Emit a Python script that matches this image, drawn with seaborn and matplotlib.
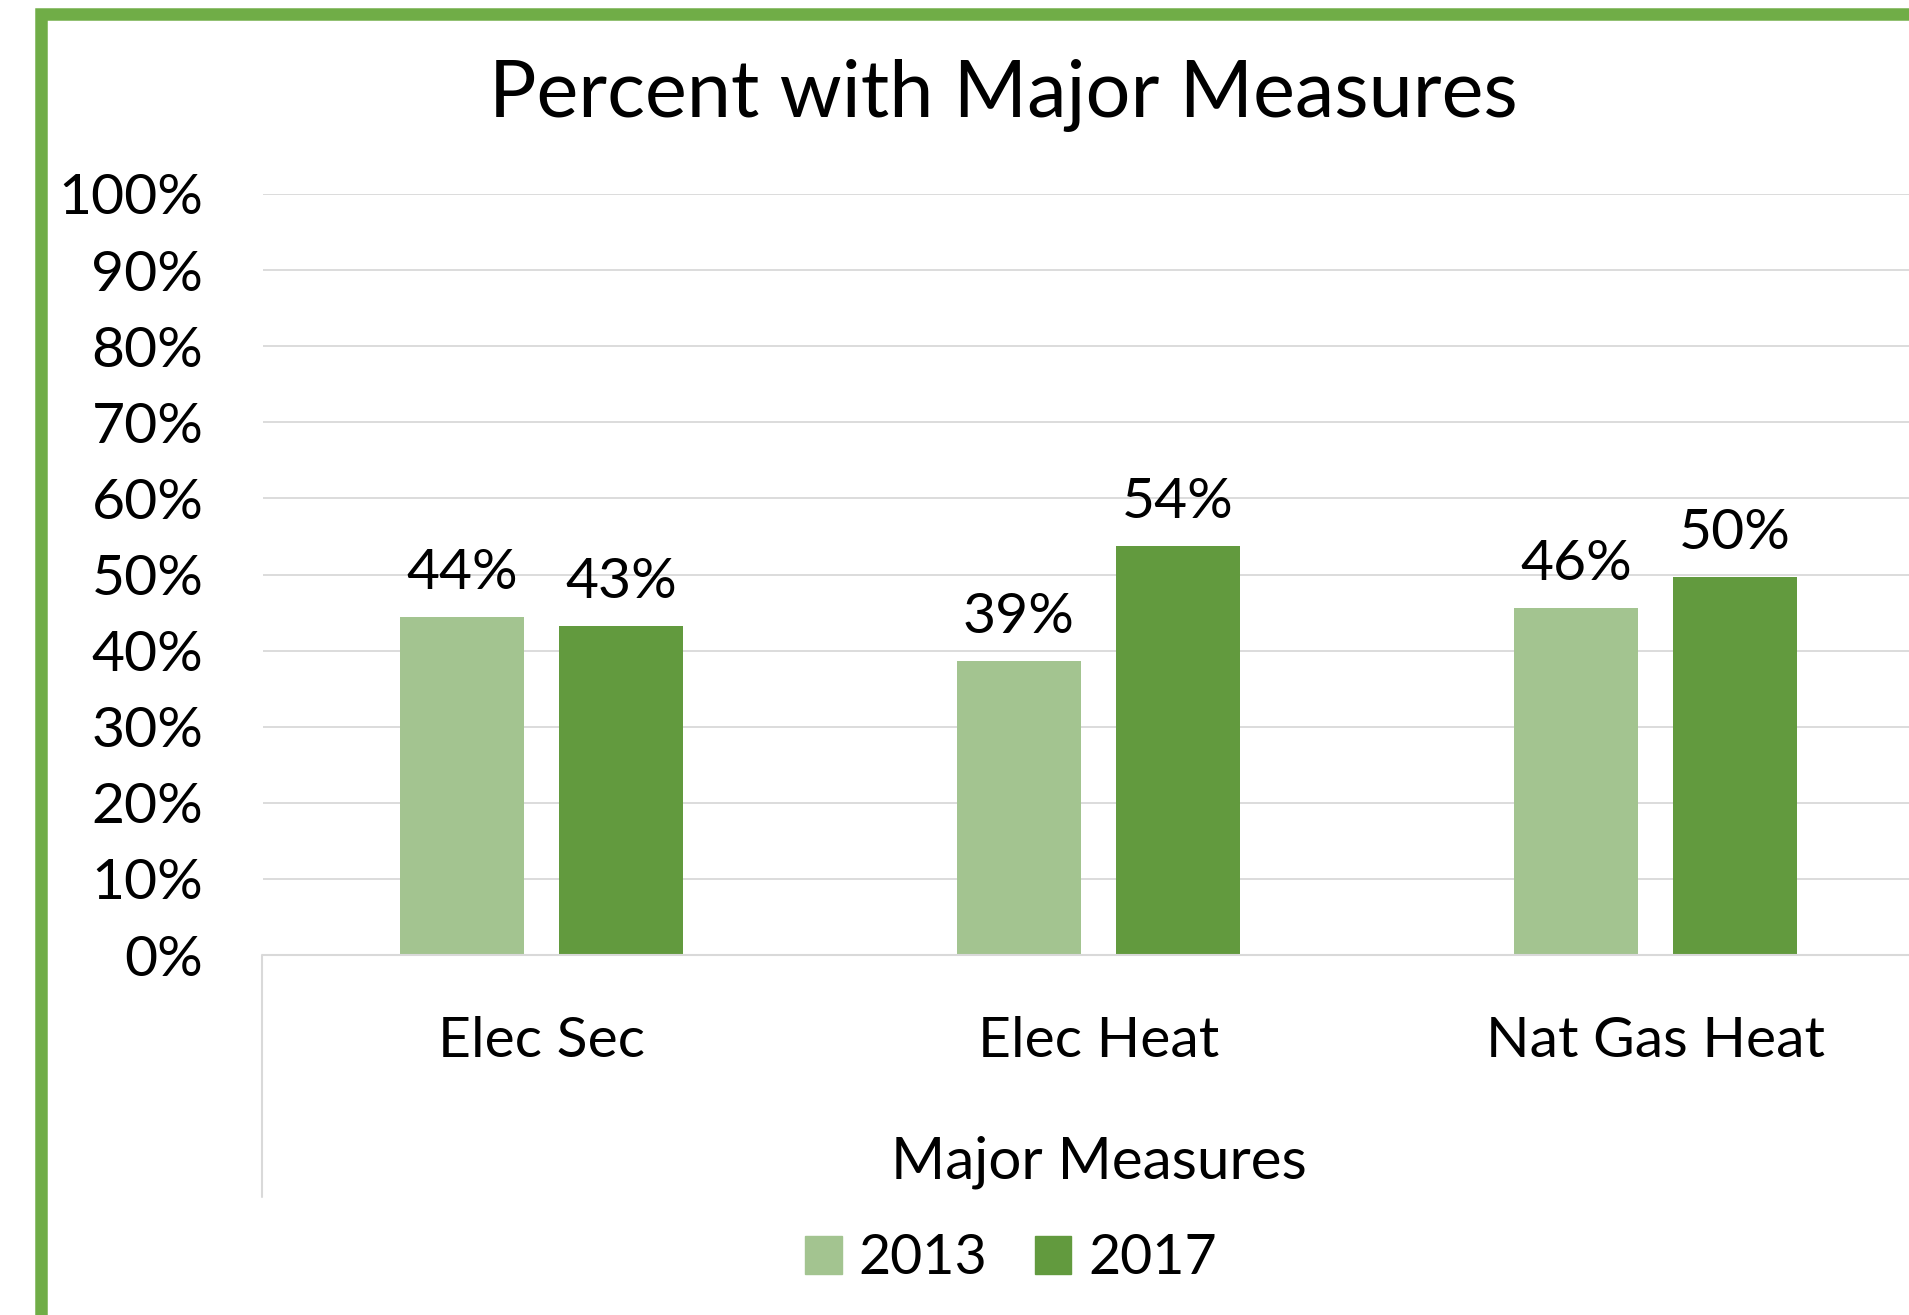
import seaborn as sns
import pandas as pd
import matplotlib.pyplot as plotter
from matplotlib.patches import Rectangle
from matplotlib.lines import Line2D
from matplotlib.ticker import PercentFormatter

categories = ["Elec Sec", "Elec Heat", "Nat Gas Heat"]
years = ["2013", "2017"]
values_2013 = [0.444, 0.386, 0.456]
values_2017 = [0.432, 0.537, 0.497]
y_ticks = [0.0, 0.1, 0.2, 0.3, 0.4, 0.5, 0.6, 0.7, 0.8, 0.9, 1.0]

bar_colors = {"2013": "#A3C490", "2017": "#629A3E"}
border_green = "#70AD47"
grid_gray = "#D9D9D9"

plot_data = pd.DataFrame({
    "Major Measures": categories * 2,
    "Year": ["2013"] * 3 + ["2017"] * 3,
    "Percent": values_2013 + values_2017,
})

sns.set_theme(style="white")
plotter.rcParams["font.family"] = ["Lato", "DejaVu Sans"]
plotter.rcParams["text.color"] = "black"

W, H = 1909, 1315
fig = plotter.figure(figsize=(W / 100, H / 100), dpi=100)
ax = fig.add_axes([263 / W, 1 - 955 / H, 1671 / W, 761 / H])

sns.barplot(data=plot_data, x="Major Measures", y="Percent", hue="Year",
            order=categories, hue_order=years, palette=bar_colors,
            saturation=1, width=0.571, gap=0.215, linewidth=0, ax=ax,
            legend=False)

ax.set_ylim(0, 1)
ax.set_xlim(-0.5, 2.5)
ax.set_yticks(y_ticks)
ax.yaxis.set_major_formatter(PercentFormatter(1.0, decimals=0))
ax.grid(axis="y", color=grid_gray, linewidth=1.3)
ax.set_axisbelow(True)
for side in ["left", "right", "top"]:
    ax.spines[side].set_visible(False)
ax.spines["bottom"].set_color(grid_gray)
ax.spines["bottom"].set_linewidth(1.5)
ax.tick_params(axis="y", length=0, pad=43, labelsize=41, labelcolor="black")
ax.tick_params(axis="x", length=0, pad=44, labelsize=41, labelcolor="black")
ax.set_ylabel("")
ax.set_xlabel("Major Measures", fontsize=42, color="black", va="center")
ax.xaxis.set_label_coords(0.5, (955 - 1162) / 761)

for container in ax.containers:
    ax.bar_label(container, fmt="{:.0%}", padding=13, fontsize=41, color="black")

fig.text(1003 / W, 1 - 95 / H, "Percent with Major Measures", fontsize=57,
         ha="center", va="center", color="black")

handles = [Rectangle((0, 0), 1, 1, color=bar_colors[y]) for y in years]
fig.legend(handles, years, loc="center", bbox_to_anchor=(1011 / W, 1 - 1259 / H),
           ncol=2, frameon=False, fontsize=40, labelcolor="black",
           handlelength=0.66, handleheight=0.66, handletextpad=0.3,
           columnspacing=0.85)

# thin divider below the category axis, like the Excel original
fig.add_artist(Line2D([262 / W, 262 / W], [1 - 955 / H, 1 - 1197 / H],
                      color=grid_gray, linewidth=1.5, transform=fig.transFigure))

# green chart border
fig.add_artist(Rectangle((41 / W, 1 - 1319 / H), 1960 / W, (1319 - 13.5) / H,
                         fill=False, edgecolor=border_green, linewidth=9,
                         transform=fig.transFigure))

fig.savefig("out.png", dpi=100)
